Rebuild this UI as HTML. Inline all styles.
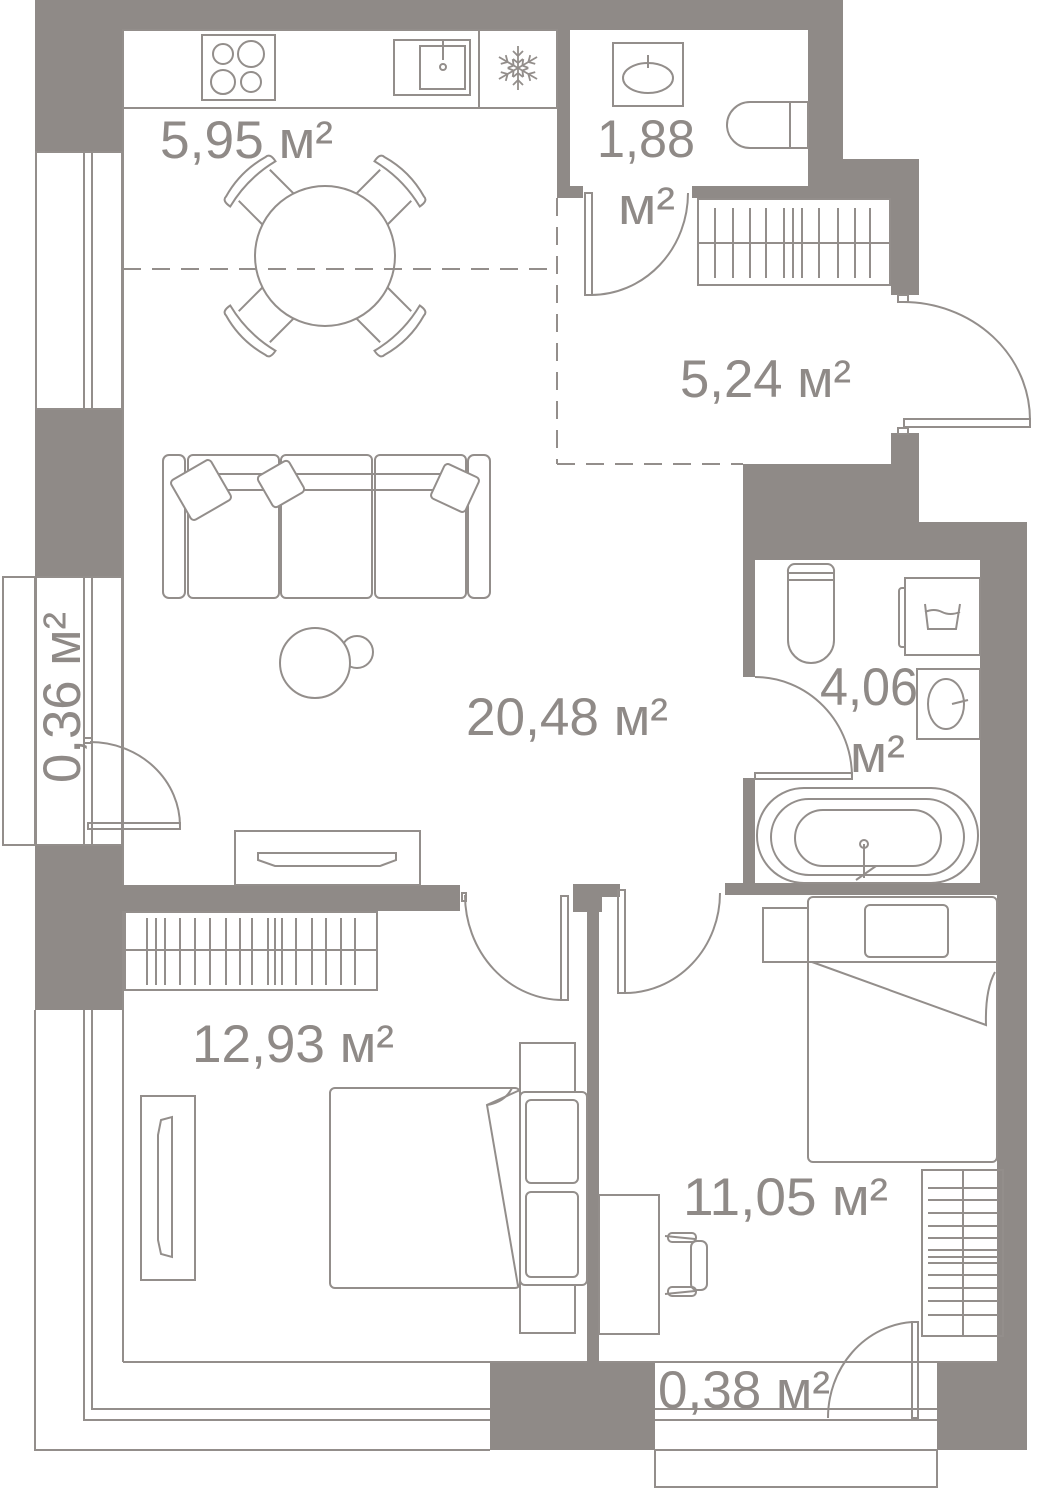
<!DOCTYPE html>
<html><head><meta charset="utf-8"><style>
html,body{margin:0;padding:0;background:#fff}
svg{display:block}
text{font-family:"Liberation Sans",sans-serif;fill:#8f8a87}
</style></head><body>
<svg width="1046" height="1500" viewBox="0 0 1046 1500" xmlns="http://www.w3.org/2000/svg">
<defs>
<g id="ch" fill="none" stroke="#938e8b" stroke-width="2"><path d="M-22 -66 V-100 M22 -66 V-100"/><path d="M-32 -102 Q0 -110 32 -102 Q34 -112 28 -112 Q0 -120 -28 -112 Q-34 -112 -32 -102 Z"/></g>
</defs>
<g fill="#8f8a87" stroke="none">
<rect x="35" y="0" width="808" height="30"/>
<rect x="35" y="0" width="88" height="152"/>
<rect x="35" y="409" width="88" height="168"/>
<rect x="35" y="845" width="88" height="165"/>
<rect x="557" y="30" width="13" height="168"/>
<rect x="557" y="186" width="26" height="12"/>
<rect x="808" y="0" width="35" height="198"/>
<rect x="692" y="186" width="227" height="12"/>
<rect x="808" y="159" width="111" height="39"/>
<rect x="891" y="159" width="28" height="136"/>
<rect x="891" y="433" width="28" height="90"/>
<rect x="743" y="464" width="176" height="96"/>
<rect x="743" y="522" width="284" height="38"/>
<rect x="980" y="522" width="47" height="373"/>
<rect x="997" y="885" width="30" height="565"/>
<rect x="743" y="464" width="12" height="213"/>
<rect x="743" y="778" width="12" height="110"/>
<rect x="725" y="883" width="302" height="12"/>
<rect x="123" y="885" width="337" height="26"/>
<rect x="573" y="884" width="47" height="13"/>
<rect x="573" y="884" width="29" height="28"/>
<rect x="587" y="884" width="12" height="478"/>
<rect x="490" y="1362" width="165" height="88"/>
<rect x="937" y="1362" width="90" height="88"/>
</g>
<g fill="none" stroke="#938e8b" stroke-width="2">
<rect x="36" y="152" width="86" height="257"/>
<line x1="84" y1="152" x2="84" y2="409"/><line x1="92" y1="152" x2="92" y2="409"/>
<rect x="36" y="577" width="86" height="268"/>
<rect x="3" y="577" width="32" height="268"/>
<line x1="84" y1="577" x2="84" y2="845"/><line x1="92" y1="577" x2="92" y2="845"/>
<line x1="123" y1="30" x2="123" y2="885"/>
<path d="M35 1010 V1450 H490"/>
<path d="M84 1010 V1420 H490"/>
<path d="M92 1010 V1409 H490"/>
<line x1="123" y1="911" x2="123" y2="1362"/>
<line x1="123" y1="1362" x2="587" y2="1362"/>
<line x1="599" y1="1362" x2="997" y2="1362"/>
<line x1="655" y1="1409" x2="937" y2="1409"/>
<line x1="655" y1="1420" x2="937" y2="1420"/>
<rect x="655" y="1450" width="282" height="37"/>
<rect x="912" y="1322" width="6" height="96"/>
<path d="M828 1418 A90 96 0 0 1 912 1322"/>
<rect x="123" y="30" width="434" height="78"/>
<line x1="479" y1="30" x2="479" y2="108"/>
<rect x="202" y="35" width="73" height="65"/>
<circle cx="223" cy="54" r="10"/><circle cx="251" cy="54" r="13"/>
<circle cx="223" cy="82" r="12"/><circle cx="251" cy="82" r="10"/>
<rect x="394" y="40" width="76" height="55"/>
<rect x="420" y="46" width="45" height="43"/>
<line x1="443" y1="40" x2="443" y2="60"/><circle cx="443" cy="67" r="3"/>
<g transform="translate(518,68)" stroke-width="1.8">
<g id="arm"><line x1="0" y1="0" x2="0" y2="-22"/><path d="M-5 -17 L0 -12 L5 -17 M-5 -9 L0 -5 L5 -9"/></g>
<use href="#arm" transform="rotate(60)"/><use href="#arm" transform="rotate(120)"/><use href="#arm" transform="rotate(180)"/><use href="#arm" transform="rotate(240)"/><use href="#arm" transform="rotate(300)"/>
</g>
<line x1="123" y1="269" x2="557" y2="269" stroke-dasharray="18 11"/>
<line x1="557" y1="198" x2="557" y2="464" stroke-dasharray="18 11"/>
<line x1="557" y1="464" x2="743" y2="464" stroke-dasharray="18 11"/>
<circle cx="325" cy="256" r="70"/>
<g transform="translate(325,256)">
<use href="#ch" transform="rotate(45)"/><use href="#ch" transform="rotate(135)"/><use href="#ch" transform="rotate(225)"/><use href="#ch" transform="rotate(315)"/>
</g>
<rect x="613" y="43" width="70" height="63"/>
<ellipse cx="648" cy="78" rx="25" ry="15"/>
<line x1="648" y1="55" x2="648" y2="68"/>
<path d="M790 102 H750 A23 23 0 0 0 750 148 H790 Z"/>
<rect x="790" y="102" width="18" height="46"/>
<rect x="585" y="193" width="7" height="102"/>
<path d="M591 295 A97 102 0 0 0 688 193"/>
<rect x="698" y="199" width="192" height="86"/>
<line x1="698" y1="243" x2="890" y2="243"/>
<g>
<line x1="715" y1="208" x2="715" y2="278"/><line x1="733" y1="208" x2="733" y2="278"/><line x1="750" y1="208" x2="750" y2="278"/><line x1="766" y1="208" x2="766" y2="278"/><line x1="784" y1="208" x2="784" y2="278"/><line x1="793" y1="208" x2="793" y2="278"/><line x1="802" y1="208" x2="802" y2="278"/><line x1="819" y1="208" x2="819" y2="278"/><line x1="838" y1="208" x2="838" y2="278"/><line x1="855" y1="208" x2="855" y2="278"/><line x1="870" y1="208" x2="870" y2="278"/>
</g>
<rect x="898" y="295" width="10" height="7"/>
<rect x="898" y="428" width="10" height="6"/>
<rect x="904" y="419" width="126" height="8"/>
<path d="M903 302 A127 118 0 0 1 1030 420"/>
<path d="M788 578 V640 A23 23 0 0 0 834 640 V572 A7 7 0 0 0 827 564 H795 A7 7 0 0 0 788 572 Z"/>
<line x1="788" y1="573" x2="834" y2="573"/><line x1="788" y1="580" x2="834" y2="580"/>
<rect x="905" y="578" width="75" height="77"/>
<path d="M905 588 H902 A3 3 0 0 0 899 591 V644 A3 3 0 0 0 902 647 H905"/>
<path d="M925 604 L928 629 H956 L960 604 M925 612 Q934 608 942 612 T960 612"/>
<rect x="917" y="669" width="63" height="70"/>
<ellipse cx="946" cy="704" rx="18" ry="25"/>
<line x1="952" y1="704" x2="968" y2="700"/>
<rect x="755" y="773" width="97" height="6"/>
<path d="M755 677 A97 100 0 0 1 852 777"/>
<rect x="757" y="788" width="221" height="95" rx="47"/>
<rect x="771" y="799" width="193" height="76" rx="38"/>
<rect x="795" y="810" width="146" height="56" rx="28"/>
<line x1="864" y1="844" x2="864" y2="878"/><circle cx="864" cy="844" r="4"/>
<line x1="856" y1="880" x2="876" y2="866"/>
<rect x="163" y="455" width="22" height="143" rx="6"/>
<rect x="468" y="455" width="22" height="143" rx="6"/>
<rect x="188" y="455" width="91" height="143" rx="5"/>
<rect x="281" y="455" width="91" height="143" rx="5"/>
<rect x="375" y="455" width="91" height="143" rx="5"/>
<line x1="188" y1="474" x2="466" y2="474"/>
<line x1="188" y1="490" x2="466" y2="490"/>
<rect x="178" y="467" width="46" height="46" rx="4" transform="rotate(-30 201 490)" fill="#fff"/>
<rect x="263" y="466" width="36" height="36" rx="4" transform="rotate(-30 281 484)" fill="#fff"/>
<rect x="436" y="469" width="38" height="38" rx="4" transform="rotate(25 455 488)" fill="#fff"/>
<circle cx="357" cy="652" r="16"/>
<circle cx="315" cy="663" r="35" fill="#fff"/>
<rect x="235" y="831" width="185" height="54"/>
<path d="M258 853 H396 V860 L380 866 H275 L258 860 Z"/>
<rect x="84" y="738" width="8" height="5"/>
<rect x="88" y="823" width="92" height="6"/>
<path d="M90 742 A90 84 0 0 1 180 826"/>
<rect x="462" y="893" width="4" height="8"/>
<rect x="561" y="896" width="7" height="104"/>
<path d="M465 895 A98 105 0 0 0 563 1000"/>
<rect x="618" y="890" width="7" height="103"/>
<path d="M625 993 A95 100 0 0 0 720 893"/>
<rect x="125" y="912" width="252" height="78"/>
<line x1="125" y1="950" x2="377" y2="950"/>
<g>
<line x1="147" y1="918" x2="147" y2="985"/><line x1="156" y1="918" x2="156" y2="985"/><line x1="165" y1="918" x2="165" y2="985"/><line x1="180" y1="918" x2="180" y2="985"/><line x1="195" y1="918" x2="195" y2="985"/><line x1="210" y1="918" x2="210" y2="985"/><line x1="226" y1="918" x2="226" y2="985"/><line x1="240" y1="918" x2="240" y2="985"/><line x1="252" y1="918" x2="252" y2="985"/><line x1="268" y1="918" x2="268" y2="985"/><line x1="275" y1="918" x2="275" y2="985"/><line x1="282" y1="918" x2="282" y2="985"/><line x1="296" y1="918" x2="296" y2="985"/><line x1="312" y1="918" x2="312" y2="985"/><line x1="326" y1="918" x2="326" y2="985"/><line x1="341" y1="918" x2="341" y2="985"/><line x1="355" y1="918" x2="355" y2="985"/>
</g>
<rect x="141" y="1096" width="54" height="184"/>
<path d="M161 1120 L172 1117 V1257 L161 1254 L158 1240 V1135 Z"/>
<rect x="520" y="1043" width="55" height="290"/>
<rect x="330" y="1088" width="190" height="200" rx="5" fill="#fff"/>
<path d="M520 1090 L487 1105 L518 1286"/>
<path d="M487 1105 Q505 1102 512 1088"/>
<rect x="520" y="1092" width="67" height="193" rx="5" fill="#fff"/>
<rect x="526" y="1100" width="52" height="83" rx="5"/>
<rect x="526" y="1192" width="52" height="85" rx="5"/>
<rect x="763" y="908" width="45" height="54"/>
<rect x="808" y="897" width="189" height="265" rx="5"/>
<rect x="865" y="905" width="83" height="52" rx="5"/>
<line x1="808" y1="962" x2="997" y2="962"/>
<path d="M812 962 L986 1025 Q985 990 995 972"/>
<rect x="599" y="1195" width="60" height="139"/>
<path d="M665 1236 L695 1239 M665 1294 L695 1291"/>
<rect x="668" y="1233" width="28" height="9" rx="4"/>
<rect x="668" y="1287" width="28" height="9" rx="4"/>
<rect x="691" y="1241" width="16" height="49" rx="6"/>
<rect x="922" y="1170" width="81" height="166"/>
<line x1="963" y1="1170" x2="963" y2="1336"/>
<g>
<line x1="928" y1="1188" x2="998" y2="1188"/><line x1="928" y1="1200" x2="998" y2="1200"/><line x1="928" y1="1213" x2="998" y2="1213"/><line x1="928" y1="1226" x2="998" y2="1226"/><line x1="928" y1="1238" x2="998" y2="1238"/><line x1="928" y1="1250" x2="998" y2="1250"/><line x1="928" y1="1257" x2="998" y2="1257"/><line x1="928" y1="1263" x2="998" y2="1263"/><line x1="928" y1="1275" x2="998" y2="1275"/><line x1="928" y1="1288" x2="998" y2="1288"/><line x1="928" y1="1301" x2="998" y2="1301"/><line x1="928" y1="1315" x2="998" y2="1315"/>
</g>
</g>
<g font-size="53">
<text x="160" y="158" textLength="173" lengthAdjust="spacingAndGlyphs">5,95 м²</text>
<text x="597" y="157" textLength="98" lengthAdjust="spacingAndGlyphs">1,88</text>
<text x="618" y="224" textLength="57" lengthAdjust="spacingAndGlyphs">м²</text>
<text x="680" y="397" textLength="171" lengthAdjust="spacingAndGlyphs">5,24 м²</text>
<text x="466" y="735" textLength="202" lengthAdjust="spacingAndGlyphs">20,48 м²</text>
<text x="820" y="705" textLength="98" lengthAdjust="spacingAndGlyphs">4,06</text>
<text x="850" y="772" textLength="55" lengthAdjust="spacingAndGlyphs">м²</text>
<text x="0" y="0" transform="translate(80,783) rotate(-90)" textLength="171" lengthAdjust="spacingAndGlyphs">0,36 м²</text>
<text x="192" y="1062" textLength="202" lengthAdjust="spacingAndGlyphs">12,93 м²</text>
<text x="683" y="1215" textLength="205" lengthAdjust="spacingAndGlyphs">11,05 м²</text>
<text x="658" y="1408" textLength="172" lengthAdjust="spacingAndGlyphs">0,38 м²</text>
</g>
</svg>
</body></html>
